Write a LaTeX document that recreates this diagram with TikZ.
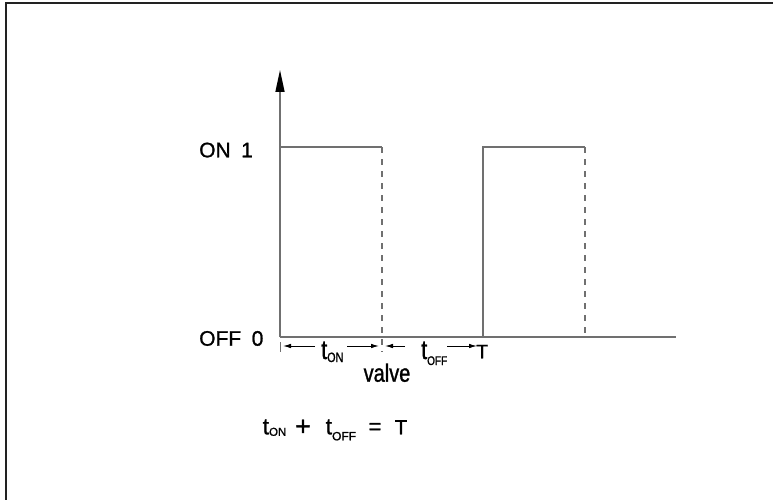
\documentclass[tikz,border=0pt]{standalone}
\usepackage{fontspec}
\setmainfont[FakeBold=1.1]{Liberation Sans}
\newfontfamily\narrowfont[FakeStretch=0.8,FakeBold=1.1]{Liberation Sans}
\usetikzlibrary{arrows.meta}
\definecolor{sigGray}{HTML}{707070}
\definecolor{frameGray}{HTML}{222222}
\begin{document}
\begin{tikzpicture}[x=1pt,y=-1pt,
  sig/.style={draw=sigGray,line width=1.5pt},
  dashsig/.style={draw=sigGray,line width=1.5pt,dash pattern=on 6pt off 6pt},
  dimarrow/.style={draw=black,line width=0.9pt,-{Latex[length=8pt,width=4.5pt]}},
  lbl/.style={inner sep=0pt,anchor=base west,text=black},
  frame/.style={draw=frameGray,line width=2pt}]
\useasboundingbox (0,0) rectangle (773,500);
% frame
\draw[frame] (5.5,500) -- (5.5,3.5) -- (773,3.5);
% coordinates
\coordinate (o) at (280,337);
\coordinate (ytip) at (280,70);
\coordinate (on1) at (280,147);
\coordinate (fall1top) at (382,147);
\coordinate (fall1bot) at (382,352);
\coordinate (rise2bot) at (483,337);
\coordinate (rise2top) at (483,147);
\coordinate (fall2top) at (585,147);
\coordinate (fall2bot) at (585,337);
\coordinate (xend) at (676,337);
% axis with arrow
\draw[sig,-{Triangle[length=22pt,width=9pt,color=black]}] (o) -- (ytip);
% signal
\draw[sig] (on1) -- (fall1top);
\draw[sig] (o) -- (xend);
\draw[sig] (rise2bot) -- (rise2top) -- (fall2top);
\draw[dashsig] (fall1top) -- (fall1bot);
\draw[dashsig] (fall2top) -- (fall2bot);
% dimension marks
\coordinate (tick0a) at (280,342);
\coordinate (tick0b) at (280,352);
\draw[draw=sigGray,line width=1pt] (tick0a) -- (tick0b);
\coordinate (a1s) at (315,346); \coordinate (a1e) at (283,346);
\coordinate (a2s) at (347,346); \coordinate (a2e) at (379,346);
\coordinate (a3s) at (405,346); \coordinate (a3e) at (385,346);
\coordinate (a4s) at (447,346); \coordinate (a4e) at (477,346);
\draw[dimarrow] (a1s) -- (a1e);
\draw[dimarrow] (a2s) -- (a2e);
\draw[dimarrow] (a3s) -- (a3e);
\draw[dimarrow] (a4s) -- (a4e);
% labels
\node[lbl] (lon) at (199,157.3) {\fontsize{21}{21}\selectfont ON\hspace{10.5pt}1};
\node[lbl] (loff) at (199,345.7) {\fontsize{21}{21}\selectfont OFF\hspace{10.5pt}0};
\node[lbl] (ton) at (321,359) {\narrowfont\fontsize{27}{27}\selectfont t\raisebox{-3pt}{\fontsize{13.5}{13.5}\selectfont ON}};
\node[lbl] (toff) at (421,359) {\narrowfont\fontsize{27}{27}\selectfont t\raisebox{-6pt}{\fontsize{12.5}{12.5}\selectfont OFF}};
\node[lbl] (tT) at (476,358.3) {\fontsize{19.5}{19.5}\selectfont T};
\node[inner sep=0pt,anchor=base,text=black] (valve) at (387,381.7) {\narrowfont\fontsize{25}{25}\selectfont valve};
% equation
\node[lbl] (eqon) at (262.5,434.3) {\fontsize{23}{23}\selectfont t\raisebox{-1.5pt}{\fontsize{11.5}{11.5}\selectfont ON}};
\node[inner sep=0pt,anchor=center,text=black] (eqplus) at (303,427.5) {\fontsize{27}{27}\selectfont +};
\node[lbl] (eqoff) at (325.5,434.3) {\fontsize{23}{23}\selectfont t\raisebox{-6pt}{\fontsize{12}{12}\selectfont OFF}};
\node[inner sep=0pt,anchor=center,text=black] (eqeq) at (375,428.5) {\fontsize{22}{22}\selectfont =};
\node[lbl] (eqT) at (394.5,434.3) {\fontsize{20.5}{20.5}\selectfont T};
\end{tikzpicture}
\end{document}
